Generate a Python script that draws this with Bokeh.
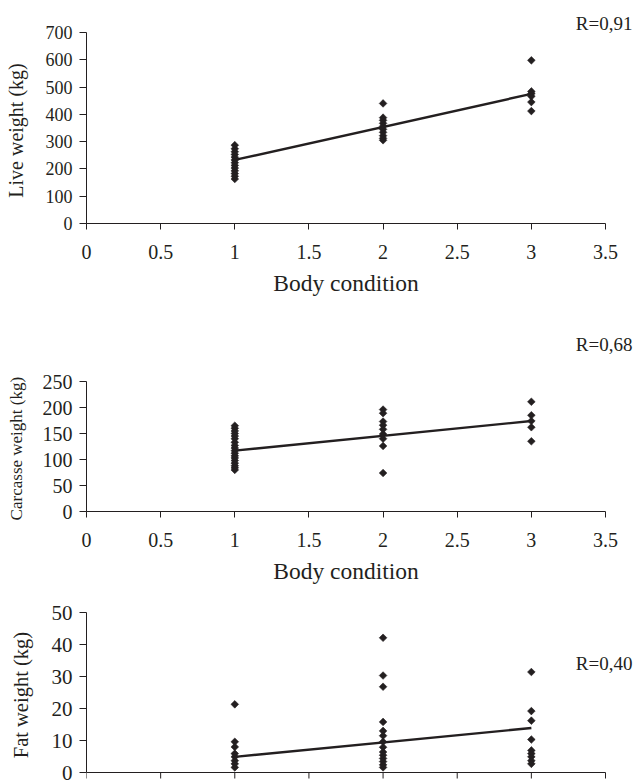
from bokeh.plotting import figure
from bokeh.models import Range1d, FixedTicker, Label, Title
from bokeh.embed import file_html
from bokeh.resources import INLINE

# ---------------- data ----------------
x_ticks = [0, 0.5, 1, 1.5, 2, 2.5, 3, 3.5]
x_tick_labels = ["0", "0.5", "1", "1.5", "2", "2.5", "3", "3.5"]

# Live weight (kg) by body condition
live_bc1 = [163, 173, 183, 193, 203, 213, 223, 233, 243, 253, 263, 274, 287]
live_bc2 = [440, 388, 378, 367, 356, 345, 334, 322, 312, 305]
live_bc3 = [598, 484, 476, 466, 445, 412]
live_trend = [233, 475]
live_r = "R=0,91"
live_yticks = [0, 100, 200, 300, 400, 500, 600, 700]

# Carcasse weight (kg)
carc_bc1 = [80, 84, 88, 93, 98, 103, 107, 112, 117, 122, 127, 133, 140, 145, 150, 155, 160, 165]
carc_bc2 = [196, 189, 173, 166, 158, 149, 140, 126, 74]
carc_bc3 = [211, 185, 174, 162, 135]
carc_trend = [117, 174]
carc_r = "R=0,68"
carc_yticks = [0, 50, 100, 150, 200, 250]

# Fat weight (kg)
fat_bc1 = [21.3, 9.6, 8.0, 5.9, 4.9, 3.7, 2.7, 1.6]
fat_bc2 = [42.1, 30.3, 26.8, 15.8, 13.0, 11.5, 9.6, 7.9, 6.4, 5.4, 4.4, 3.4, 2.4, 1.6]
fat_bc3 = [31.4, 19.2, 16.2, 10.3, 6.9, 5.9, 4.9, 3.7, 2.7]
fat_trend = [4.9, 13.9]
fat_r = "R=0,40"
fat_yticks = [0, 10, 20, 30, 40, 50]

trend_x = [1, 3]
conditions = [1, 2, 3]

FONT = "Liberation Serif"
INK = "#231f20"
W = 636
AX_LEFT = 86        # pixel of x = 0
AX_RIGHT = 605      # pixel of x = 3.5


def style_y(p, yticks, ylabel, ytick_fs, ylabel_fs, ylabel_standoff):
    ya = p.yaxis[0]
    ya.bounds = (0, yticks[-1])
    ya.ticker = FixedTicker(ticks=yticks)
    ya.minor_tick_line_color = None
    ya.axis_line_color = INK
    ya.major_tick_line_color = INK
    ya.major_tick_in = 0
    ya.major_tick_out = 7
    ya.major_label_text_font = FONT
    ya.major_label_text_font_size = ytick_fs
    ya.major_label_text_color = INK
    ya.major_label_standoff = 7
    ya.axis_label = ylabel
    ya.axis_label_text_font = FONT
    ya.axis_label_text_font_size = ylabel_fs
    ya.axis_label_text_font_style = "normal"
    ya.axis_label_text_color = INK
    ya.axis_label_standoff = ylabel_standoff


def draw_data(p, groups, trend):
    xs, ys = [], []
    for c, vals in zip(conditions, groups):
        xs += [c] * len(vals)
        ys += vals
    p.line(trend_x, trend, line_color=INK, line_width=2.4)
    p.scatter(xs, ys, marker="square", angle=0.785398, size=5.4,
              fill_color=INK, line_color=INK, line_width=0.6)


def top_panel(groups, trend, yticks, ylabel, r_text, r_standoff,
              height, frame_top, frame_bottom, ytick_fs, ylabel_fs, ylabel_standoff):
    p = figure(width=W, height=height, x_range=Range1d(0, x_ticks[-1]),
               y_range=Range1d(0, yticks[-1]), output_backend="svg",
               toolbar_location=None, min_border_left=AX_LEFT,
               min_border_right=W - AX_RIGHT,
               min_border_top=frame_top, min_border_bottom=height - frame_bottom)
    p.grid.visible = False
    p.outline_line_color = None
    draw_data(p, groups, trend)

    xa = p.xaxis[0]
    xa.ticker = FixedTicker(ticks=x_ticks)
    xa.major_label_overrides = {t: l for t, l in zip(x_ticks, x_tick_labels)}
    xa.minor_tick_line_color = None
    xa.axis_line_color = INK
    xa.major_tick_line_color = INK
    xa.major_tick_in = 0
    xa.major_tick_out = 6
    xa.major_label_text_font = FONT
    xa.major_label_text_font_size = "20px"
    xa.major_label_text_color = INK
    xa.major_label_standoff = 15
    xa.axis_label = "Body condition"
    xa.axis_label_text_font = FONT
    xa.axis_label_text_font_size = "23.5px"
    xa.axis_label_text_font_style = "normal"
    xa.axis_label_text_color = INK
    xa.axis_label_standoff = 8

    style_y(p, yticks, ylabel, ytick_fs, ylabel_fs, ylabel_standoff)
    p.add_layout(Title(text=r_text, align="right", offset=-27, standoff=r_standoff,
                       text_font=FONT, text_font_size="19px",
                       text_font_style="normal", text_color=INK), "above")
    return p


def bottom_panel(groups, trend, yticks, ylabel, r_text, r_y,
                 height, frame_top, y_top_px, y_zero_px, ytick_fs, ylabel_fs,
                 ylabel_standoff):
    xmax = x_ticks[-1]
    ymax = yticks[-1]
    xpx = (AX_RIGHT - AX_LEFT) / xmax
    ypx = (y_zero_px - y_top_px) / ymax
    x_end = xmax + (W - AX_RIGHT) / xpx
    y_end = ymax + (y_top_px - frame_top) / ypx
    y_start = -(height - y_zero_px) / ypx
    p = figure(width=W, height=height, x_range=Range1d(0, x_end),
               y_range=Range1d(y_start, y_end), output_backend="svg",
               toolbar_location=None, min_border_left=AX_LEFT, min_border_right=0,
               min_border_top=frame_top, min_border_bottom=0)
    p.grid.visible = False
    p.outline_line_color = None
    draw_data(p, groups, trend)

    # x axis cut by the lower edge of the picture: only line and ticks
    p.xaxis.visible = False
    p.segment(x0=[x_ticks[0]], y0=[0], x1=[xmax], y1=[0], line_color=INK, line_width=1)
    tick_len = 6 / ypx
    p.segment(x0=x_ticks, y0=[0] * len(x_ticks), x1=x_ticks,
              y1=[-tick_len] * len(x_ticks), line_color=INK, line_width=1)

    style_y(p, yticks, ylabel, ytick_fs, ylabel_fs, ylabel_standoff)
    p.add_layout(Label(x=xmax, y=r_y, x_offset=27, text=r_text,
                       text_align="right", text_baseline="middle",
                       text_font=FONT, text_font_size="19px", text_color=INK))
    return p


# panel 1: page y 0..300, axis 0..700 at y 223..32
p1 = top_panel([live_bc1, live_bc2, live_bc3], live_trend, live_yticks,
               "Live weight  (kg)", live_r, -3,
               300, 32, 223, "18px", "20px", 16)
# panel 2: page y 300..592, axis 0..250 at y 511..381
p2 = top_panel([carc_bc1, carc_bc2, carc_bc3], carc_trend, carc_yticks,
               "Carcasse weight  (kg)", carc_r, 53,
               292, 81, 211, "20px", "17px", 14)
# panel 3: page y 592..784, axis 0..50 at y 772..612
p3 = bottom_panel([fat_bc1, fat_bc2, fat_bc3], fat_trend, fat_yticks,
                  "Fat weight  (kg)", fat_r, 34.1,
                  192, 8, 20, 180, "21px", "20.5px", 17)

# three independent roots stacked on the page (no shared frame alignment)
open("out.html", "w").write(file_html([p1, p2, p3], INLINE))
